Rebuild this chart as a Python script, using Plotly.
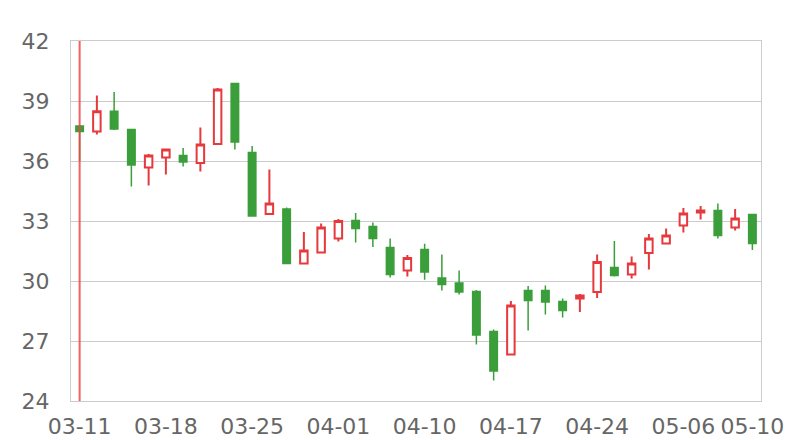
import plotly.graph_objects as go

dates = ["03-11", "03-12", "03-13", "03-14", "03-15",
         "03-18", "03-19", "03-20", "03-21", "03-22",
         "03-25", "03-26", "03-27", "03-28", "03-29",
         "04-01", "04-02", "04-03", "04-08", "04-09",
         "04-10", "04-11", "04-12", "04-15", "04-16",
         "04-17", "04-18", "04-19", "04-22", "04-23",
         "04-24", "04-25", "04-26", "04-29", "04-30",
         "05-06", "05-07", "05-08", "05-09", "05-10"]

open_ = [37.75, 37.47, 38.49, 37.58, 35.68, 36.18, 36.27, 35.90, 36.85, 39.87,
         36.42, 33.35, 33.60, 30.88, 31.43, 32.13, 33.03, 32.73, 31.68, 30.52,
         31.58, 30.15, 29.90, 29.47, 27.47, 26.32, 29.52, 29.53, 28.97, 29.13,
         29.45, 30.68, 30.33, 31.40, 31.88, 32.77, 33.43, 33.52, 32.68, 33.33]
close = [37.47, 38.49, 37.60, 35.80, 36.27, 36.58, 35.95, 36.83, 39.58, 36.95,
         33.25, 33.87, 30.88, 31.52, 32.68, 33.00, 32.62, 32.12, 30.32, 31.15,
         30.45, 29.83, 29.45, 27.30, 25.50, 28.78, 29.03, 28.95, 28.53, 29.28,
         30.95, 30.27, 30.87, 32.13, 32.27, 33.38, 33.52, 32.28, 33.12, 31.87]
high = [37.80, 39.27, 39.45, 37.60, 36.35, 36.60, 36.65, 37.67, 39.65, 39.88,
        36.75, 35.58, 33.68, 32.45, 32.88, 33.10, 33.40, 32.93, 32.12, 31.30,
        31.86, 31.32, 30.53, 29.55, 27.58, 29.00, 29.75, 29.78, 29.13, 29.35,
        31.32, 32.00, 31.23, 32.35, 32.63, 33.65, 33.75, 33.87, 33.60, 33.35]
low = [36.00, 37.33, 37.55, 34.72, 34.77, 35.33, 35.72, 35.48, 36.85, 36.58,
       33.25, 33.35, 30.85, 30.85, 31.43, 31.97, 31.92, 31.70, 30.18, 30.22,
       30.06, 29.52, 29.32, 26.82, 25.02, 26.32, 27.52, 28.33, 28.17, 28.45,
       29.15, 30.22, 30.12, 30.58, 31.88, 32.43, 33.07, 32.12, 32.52, 31.55]

tick_labels = ["03-11", "03-18", "03-25", "04-01", "04-10", "04-17", "04-24", "05-06", "05-10"]
y_ticks = [24, 27, 30, 33, 36, 39, 42]
marker_date = "03-11"

RED = "#e5393d"
GREEN = "#3a9e3a"

fig = go.Figure()
fig.add_trace(go.Candlestick(
    x=dates, open=open_, high=high, low=low, close=close,
    increasing=dict(line=dict(color=RED, width=2), fillcolor="#ffffff"),
    decreasing=dict(line=dict(color=GREEN, width=1.5), fillcolor=GREEN),
    whiskerwidth=0,
    showlegend=False,
    hoverinfo="skip",
))

fig.add_shape(type="line", xref="x", yref="y",
              x0=marker_date, x1=marker_date, y0=24, y1=42.1,
              line=dict(color="rgba(240,70,70,0.85)", width=2), layer="above")

fig.update_layout(
    width=800, height=440,
    margin=dict(l=63, r=47, t=33, b=47, autoexpand=False),
    paper_bgcolor="#ffffff", plot_bgcolor="#ffffff",
    boxgap=0.38,
    font=dict(family="DejaVu Sans", size=22, color="#666666"),
)
fig.update_xaxes(
    type="category", categoryorder="array", categoryarray=dates,
    rangeslider=dict(visible=False),
    tickmode="array", tickvals=tick_labels, ticktext=tick_labels,
    showgrid=False, showline=True, linecolor="#cccccc", linewidth=1, mirror=True,
    ticks="", ticklabelstandoff=6, zeroline=False, automargin=False,
    range=[-0.5, len(dates) - 0.5],
)
fig.update_yaxes(
    range=[24, 42], tickmode="array", tickvals=y_ticks,
    showgrid=True, gridcolor="#cccccc", gridwidth=1,
    showline=True, linecolor="#cccccc", linewidth=1, mirror=True,
    ticks="", ticklabelstandoff=16, zeroline=False, automargin=False,
)

fig.write_html("out.html")
